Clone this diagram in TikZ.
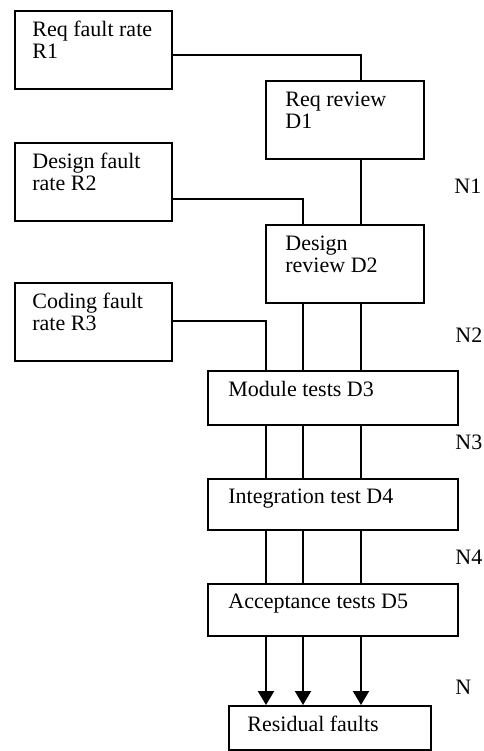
\documentclass[tikz,border=0pt]{standalone}
\usepackage{fontspec}
\setmainfont{Liberation Serif}
\usetikzlibrary{arrows.meta,positioning}

\begin{document}
\begin{tikzpicture}[
  x=0.5pt, y=-0.5pt,
  font=\fontsize{11}{11}\selectfont,
  box/.style={draw, line width=1pt, inner sep=0pt, anchor=north west},
  rate/.style={box, minimum width=78.5pt, minimum height=39pt},
  review/.style={box, minimum width=79pt, minimum height=39pt},
  test/.style={box, minimum width=125pt},
  txt/.style={inner sep=0pt, align=left, anchor=base west},
  link/.style={line width=1pt},
  arr/.style={link, -{Triangle[length=7pt, width=8pt]}}
]
  \useasboundingbox (0,0) rectangle (483,751);

  % boxes
  \node[rate] (r1) at (14,10) {};
  \node[review] (d1) at (265,80) {};
  \node[rate] (r2) at (14,142) {};
  \node[review] (d2) at (265,224) {};
  \node[rate] (r3) at (14,282) {};
  \node[test, minimum height=27pt] (d3) at (207,370) {};
  \node[test, minimum height=25.5pt] (d4) at (207,478) {};
  \node[test, minimum height=26pt] (d5) at (207,583) {};
  \node[box, minimum width=101pt, minimum height=22pt] (res) at (228,705) {};

  % box texts (base = last line)
  \node[txt] (r1t) at ([shift={(18,48)}]r1.north west) {Req fault rate\\R1};
  \node[txt] (d1t) at ([shift={(20,48)}]d1.north west) {Req review\\D1};
  \node[txt] (r2t) at ([shift={(18,48)}]r2.north west) {Design fault\\rate R2};
  \node[txt] (d2t) at ([shift={(20,48)}]d2.north west) {Design\\review D2};
  \node[txt] (r3t) at ([shift={(18,48)}]r3.north west) {Coding fault\\rate R3};
  \node[txt] (d3t) at ([shift={(21,26)}]d3.north west) {Module tests D3};
  \node[txt] (d4t) at ([shift={(21,25)}]d4.north west) {Integration test D4};
  \node[txt] (d5t) at ([shift={(21,25)}]d5.north west) {Acceptance tests D5};
  \node[txt] (rest) at ([shift={(19,26)}]res.north west) {Residual faults};

  % fault counts
  \node[txt] (n1) at (454,193) {N1};
  \node[txt] (n2) at (455,342) {N2};
  \node[txt] (n3) at (455,449) {N3};
  \node[txt] (n4) at (455,564) {N4};
  \node[txt] (n) at (455,694) {N};

  % fault streams
  \coordinate (sc) at (266,0);
  \coordinate (sd) at (303,0);
  \coordinate (sr) at (361,0);

  \draw[link] ([yshift=-2.5pt]r1.east) -| (sr |- d1.north);
  \draw[link] (sr |- d1.south) -- (sr |- d2.north);
  \draw[link] ([yshift=-8.5pt]r2.east) -| (sd |- d2.north);
  \draw[link] ([yshift=-19.5pt]r3.north east) -| (sc |- d3.north);
  \foreach \s in {sd,sr}
    \draw[link] (\s |- d2.south) -- (\s |- d3.north);
  \foreach \s in {sc,sd,sr} {
    \draw[link] (\s |- d3.south) -- (\s |- d4.north);
    \draw[link] (\s |- d4.south) -- (\s |- d5.north);
    \draw[arr] (\s |- d5.south) -- (\s |- res.north);
  }
\end{tikzpicture}
\end{document}
